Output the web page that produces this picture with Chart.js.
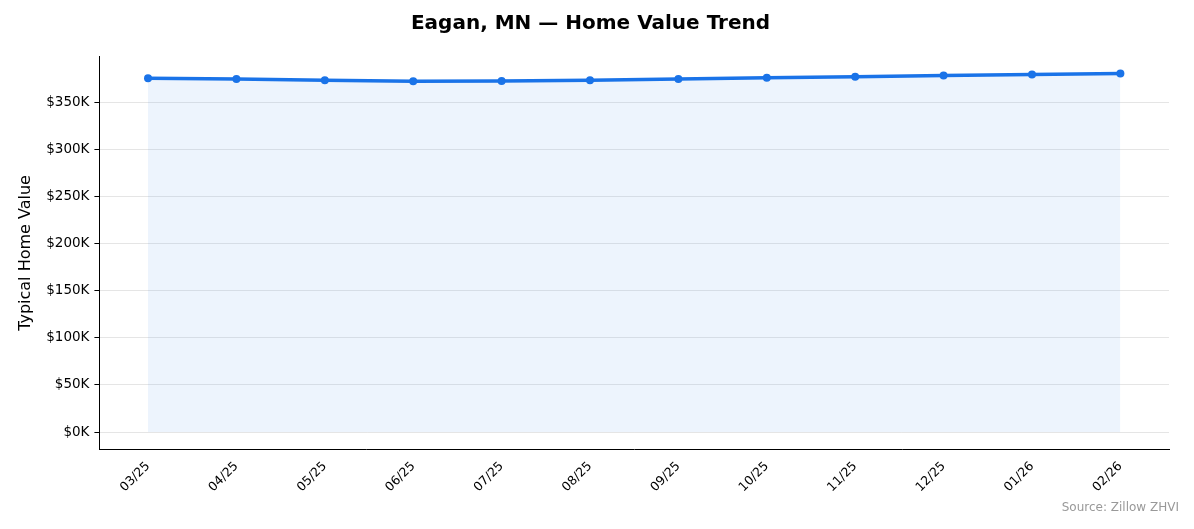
<!DOCTYPE html>
<html><head><meta charset="utf-8">
<script src="https://cdn.jsdelivr.net/npm/chart.js@4"></script>
<style>
html,body{margin:0;padding:0;background:#fff;}
#wrap{position:relative;width:1194px;height:529px;}
#src{position:absolute;right:15px;bottom:15px;font:12px "DejaVu Sans",sans-serif;color:#999;}
</style></head>
<body>
<div id="wrap"><canvas id="c" width="1194" height="529"></canvas><div id="src">Source: Zillow ZHVI</div></div>
<script>
const months = ['03/25','04/25','05/25','06/25','07/25','08/25','09/25','10/25','11/25','12/25','01/26','02/26'];
const homeValues = [375500, 374500, 373300, 372300, 372400, 373300, 374600, 375800, 377000, 378200, 379300, 380300];

const points = homeValues.map((v,i)=>({x:i,y:v}));

new Chart(document.getElementById('c'), {
  type:'line',
  data:{datasets:[{
    data: points,
    borderColor:'#1a73e8',
    backgroundColor:'rgba(26,115,232,0.08)',
    fill:'origin',
    borderWidth:3.5,
    pointRadius:4,
    pointBackgroundColor:'#1a73e8',
    pointBorderWidth:0,
    tension:0
  }]},
  options:{
    responsive:false, animation:false,
    layout:{padding:{left:12,right:25,top:8,bottom:30}},
    plugins:{
      legend:{display:false},
      tooltip:{enabled:false},
      title:{display:true,text:'Eagan, MN — Home Value Trend',color:'#000',
        font:{family:'DejaVu Sans',size:20,weight:'bold'},padding:{top:4,bottom:20}}
    },
    scales:{
      x:{type:'linear',min:-0.55,max:11.55,
        afterBuildTicks:s=>{s.ticks=months.map((m,i)=>({value:i}));},
        ticks:{callback:v=>months[v],maxRotation:45,minRotation:45,color:'#000',
          font:{family:'DejaVu Sans',size:12.5},padding:4},
        grid:{display:false,drawTicks:true,tickLength:5,tickColor:'#000'},
        border:{color:'#000',width:1}
      },
      y:{min:-19000,max:399000,
        afterBuildTicks:s=>{s.ticks=[0,50000,100000,150000,200000,250000,300000,350000].map(v=>({value:v}));},
        ticks:{callback:v=>'$'+(v/1000)+'K',color:'#000',font:{family:'DejaVu Sans',size:13.5},padding:5},
        grid:{color:'rgba(0,0,0,0.1)',tickLength:5,tickColor:'#000'},
        border:{color:'#000',width:1},
        title:{display:true,text:'Typical Home Value',color:'#000',font:{family:'DejaVu Sans',size:16},padding:{bottom:6}}
      }
    }
  }
});
</script>
</body></html>
